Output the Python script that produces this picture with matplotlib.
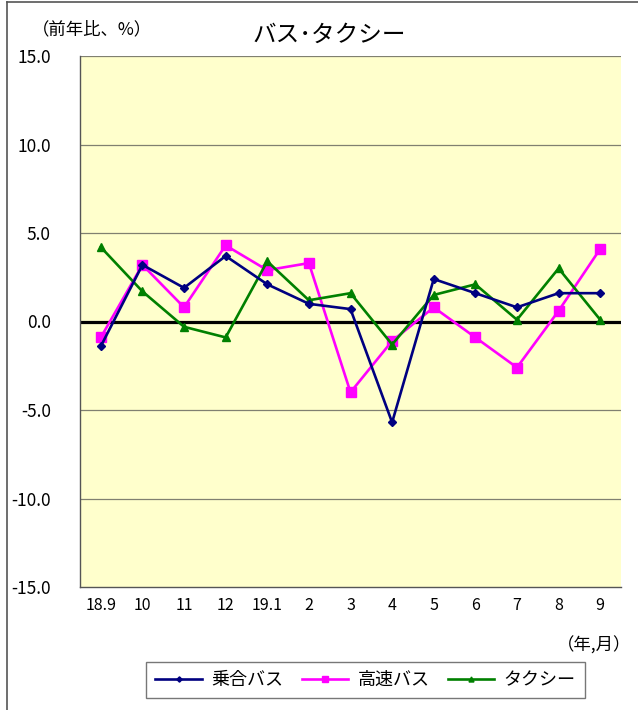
"""バス・タクシー 前年比推移 (18.9 - 19.9)."""

import matplotlib
matplotlib.use("Agg")
import matplotlib.pyplot as plt
from matplotlib.lines import Line2D
from matplotlib.ticker import FormatStrFormatter

plt.rcParams["font.family"] = ["Noto Sans CJK JP", "DejaVu Sans"]

months = ["18.9", "10", "11", "12", "19.1", "2", "3", "4", "5", "6", "7", "8", "9"]
noriai_bus = [-1.4, 3.2, 1.9, 3.7, 2.1, 1.0, 0.7, -5.7, 2.4, 1.6, 0.8, 1.6, 1.6]
kosoku_bus = [-0.9, 3.2, 0.8, 4.3, 2.9, 3.3, -4.0, -1.1, 0.8, -0.9, -2.6, 0.6, 4.1]
taxi = [4.2, 1.7, -0.3, -0.9, 3.4, 1.2, 1.6, -1.3, 1.5, 2.1, 0.1, 3.0, 0.1]
yticks = [-15, -10, -5, 0, 5, 10, 15]

W, H = 638, 710
fig = plt.figure(figsize=(W / 100, H / 100), dpi=100)
ax = fig.add_axes([80 / W, 1 - 587 / H, 541 / W, 531 / H])
ax.set_facecolor("#FFFFCC")

x = list(range(len(months)))
ax.plot(x, noriai_bus, color="#000080", lw=1.9, marker="D", ms=4.5, label="乗合バス", zorder=4)
ax.plot(x, kosoku_bus, color="#FF00FF", lw=1.9, marker="s", ms=6.5, label="高速バス", zorder=3)
ax.plot(x, taxi, color="#008000", lw=1.9, marker="^", ms=6, label="タクシー", zorder=3)

ax.axhline(0, color="black", lw=2.3, zorder=2)
for yv in yticks:
    if yv != 0 and yv != -15:
        ax.axhline(yv, color="#808070", lw=0.9, zorder=1)

ax.set_xlim(-0.5, len(months) - 0.5)
ax.set_ylim(-15, 15)
ax.set_xticks(x)
ax.set_xticklabels(months)
ax.set_yticks(yticks)
ax.yaxis.set_major_formatter(FormatStrFormatter("%.1f"))
ax.tick_params(axis="y", length=0, pad=21, labelsize=12.5)
ax.tick_params(axis="x", length=0, pad=7, labelsize=11.5)
for s in ("top", "right"):
    ax.spines[s].set_visible(False)
for s in ("left", "bottom"):
    ax.spines[s].set_color("#555555")
    ax.spines[s].set_linewidth(1.0)

fig.text(329 / W, 1 - 35 / H, "バス･タクシー", ha="center", va="center", fontsize=17)
fig.text(92 / W, 1 - 29 / H, "（前年比、%）", ha="center", va="center", fontsize=12.5)
fig.text(594 / W, 1 - 646 / H, "（年,月）", ha="center", va="center", fontsize=12.5)

leg = fig.legend(loc="center", bbox_to_anchor=(365.5 / W, 1 - 680 / H), ncol=3,
                 fontsize=13, frameon=True, fancybox=False, handlelength=2.6,
                 columnspacing=1.0, borderpad=0.5, handletextpad=0.5, markerscale=0.6)
leg.get_frame().set_edgecolor("#555555")
leg.get_frame().set_linewidth(1.0)

# outer chart frame
fig.add_artist(Line2D([7 / W, 7 / W], [0, 1 - 2 / H], color="#555555", lw=1.2))
fig.add_artist(Line2D([7 / W, 1], [1 - 2 / H, 1 - 2 / H], color="#555555", lw=1.2))

fig.savefig("out.png", dpi=100)
